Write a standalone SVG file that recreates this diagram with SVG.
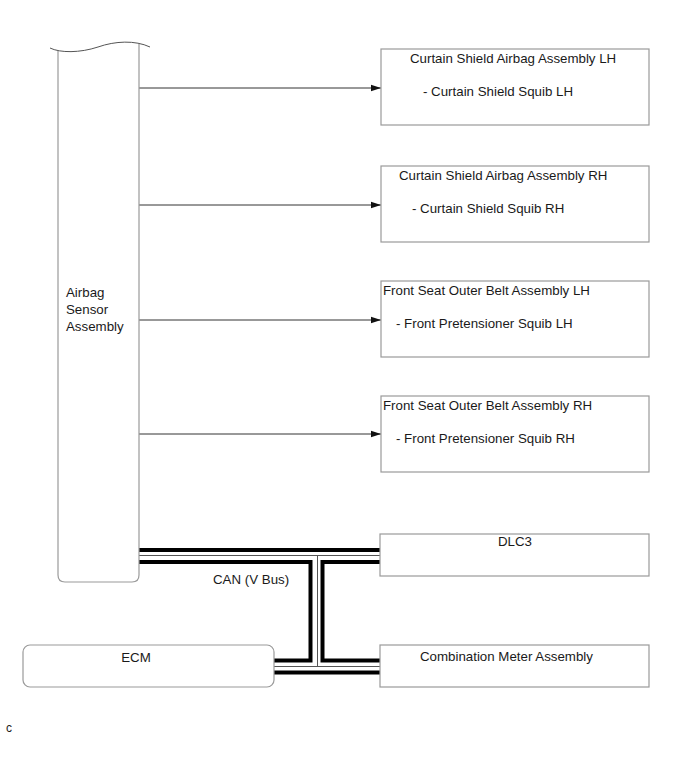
<svg xmlns="http://www.w3.org/2000/svg" width="691" height="757" viewBox="0 0 691 757">
<style>
text{font-family:"Liberation Sans",Arial,sans-serif;font-size:13.3px;fill:#1a1a1a}
.box{fill:#fff;stroke:#9a9a9a;stroke-width:1.2}
.arr{stroke:#333;stroke-width:1;fill:none;marker-end:url(#ah)}
.mid{text-anchor:middle}
</style>
<defs>
<marker id="ah" viewBox="0 0 10 8" refX="10" refY="4" markerWidth="10" markerHeight="8" markerUnits="userSpaceOnUse" orient="auto">
<path d="M0,0.8 L10,4 L0,7.2 Z" fill="#111"/>
</marker>
</defs>
<rect width="691" height="757" fill="#fff"/>
<g id="connectors">
<path class="arr" d="M139,88 H381"/>
<path class="arr" d="M139,205 H381"/>
<path class="arr" d="M139,320 H381"/>
<path class="arr" d="M139,434 H381"/>
<g id="can-bus" fill="none">
<path d="M139,556 H380 M316.5,556 V666.5 M274,666.5 H380" stroke="#000" stroke-width="16"/>
<path d="M139,556 H380 M316.5,556 V666.5 M274,666.5 H380" stroke="#fff" stroke-width="8"/>
<path d="M139,555.5 H380 M317.5,555.5 V666.5 M274,666.5 H380" stroke="#555" stroke-width="1"/>
</g>
<text x="213" y="584">CAN (V Bus)</text>
</g>
<g id="airbag-sensor">
<path d="M58,51 V575 Q58,582 65,582 H132 Q139,582 139,575 V44" fill="none" stroke="#9a9a9a" stroke-width="1.2"/>
<path d="M50,48 C60,53 80,53 98,47 C115,41 135,40 150,47" fill="none" stroke="#555" stroke-width="1"/>
<text x="66" y="297">Airbag</text>
<text x="66" y="314">Sensor</text>
<text x="66" y="331">Assembly</text>
</g>
<g id="curtain-lh">
<rect class="box" x="381" y="49" width="268" height="76"/>
<text x="410" y="63">Curtain Shield Airbag Assembly LH</text>
<text x="423" y="96">- Curtain Shield Squib LH</text>
</g>
<g id="curtain-rh">
<rect class="box" x="381" y="166" width="268" height="76"/>
<text x="399" y="180">Curtain Shield Airbag Assembly RH</text>
<text x="412" y="213">- Curtain Shield Squib RH</text>
</g>
<g id="belt-lh">
<rect class="box" x="381" y="281" width="268" height="76"/>
<text x="383" y="295">Front Seat Outer Belt Assembly LH</text>
<text x="396" y="328">- Front Pretensioner Squib LH</text>
</g>
<g id="belt-rh">
<rect class="box" x="381" y="396" width="268" height="76"/>
<text x="383" y="410">Front Seat Outer Belt Assembly RH</text>
<text x="396" y="443">- Front Pretensioner Squib RH</text>
</g>
<g id="dlc3">
<rect class="box" x="380" y="534" width="269" height="42"/>
<text class="mid" x="515" y="546">DLC3</text>
</g>
<g id="combination-meter">
<rect class="box" x="380" y="645" width="269" height="42"/>
<text x="420" y="661">Combination Meter Assembly</text>
</g>
<g id="ecm">
<rect class="box" x="23" y="645" width="251" height="42" rx="7"/>
<text class="mid" x="136" y="662">ECM</text>
</g>
<text x="6" y="732" style="font-size:12px">c</text>
</svg>
